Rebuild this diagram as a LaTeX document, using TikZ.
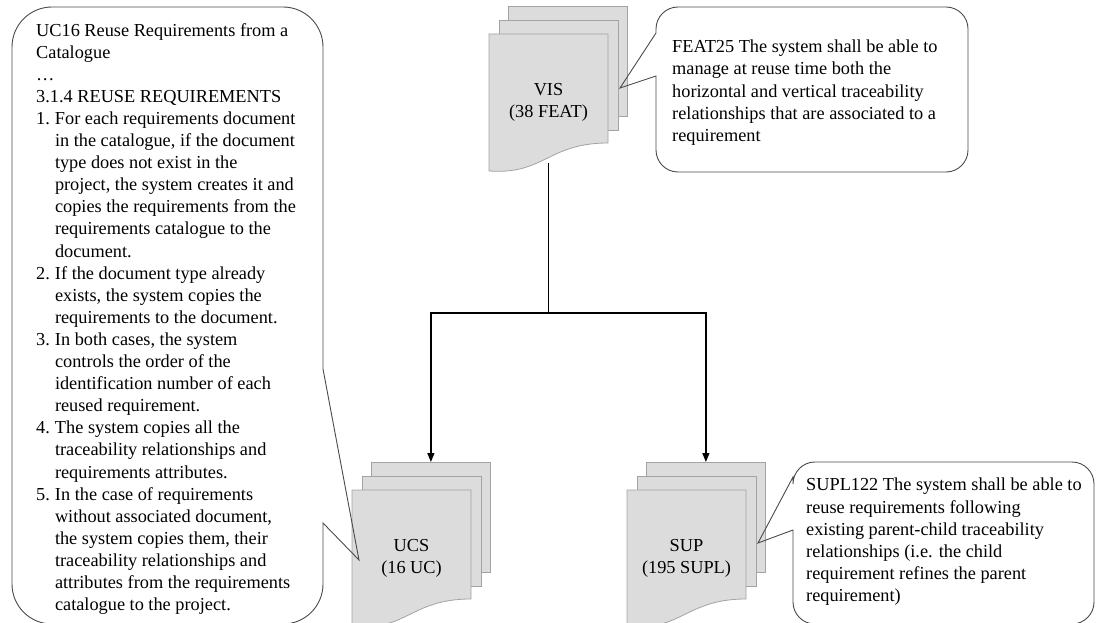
\documentclass[tikz,border=0pt]{standalone}
\usepackage{fontspec}
\setmainfont{Liberation Serif}
\usetikzlibrary{arrows.meta}
\usetikzlibrary{positioning}
\usepackage{xcolor}
\definecolor{pagegray}{HTML}{DCDCDC}
\definecolor{pageline}{HTML}{A3A3A3}
\definecolor{balloonline}{HTML}{4A4A4A}
\newcommand{\ind}{\hspace*{18.8pt}}
\newcommand{\itemno}[1]{\makebox[18.8pt][l]{#1}}

\begin{document}
\begin{tikzpicture}[x=1pt,y=-1pt,
    font=\fontsize{18.3}{22.1}\selectfont,
    page/.style={draw=pageline, fill=pagegray, line width=0.8pt},
    backpage/.style={page, minimum width=119pt, minimum height=110pt, anchor=north west, inner sep=0pt},
    balloon/.style={draw=balloonline, line width=0.9pt},
    doclabel/.style={align=center, inner sep=0pt, anchor=north},
    notetext/.style={align=left, inner sep=0pt, anchor=north west},
    link/.style={line width=1.2pt},
    flow/.style={link, -{Triangle[length=9pt,width=7pt]}}]
\useasboundingbox (0,0) rectangle (1096,623);

% VIS stack
\node[backpage] (visback) at (508,6) {};
\node[backpage] (vismid) at (498.5,20) {};
\draw[page] (489,34) -- (608,34) -- (608,143) .. controls (548,143) and (544,175) .. (489,171) -- cycle;
\node[doclabel] (vis) at (548.5,83) {VIS\\(38 FEAT)};

% UCS stack
\node[backpage] (ucsback) at (371,462) {};
\node[backpage] (ucsmid) at (361.5,476) {};
\draw[page] (352,490) -- (471,490) -- (471,599) .. controls (411,599) and (407,631) .. (352,627) -- cycle;
\node[doclabel] (ucs) at (411.5,539) {UCS\\(16 UC)};

% SUP stack
\node[backpage] (supback) at (646,462) {};
\node[backpage] (supmid) at (636.5,476) {};
\draw[page] (627,490) -- (746,490) -- (746,599) .. controls (686,599) and (682,631) .. (627,627) -- cycle;
\node[doclabel] (sup) at (686.5,539) {SUP\\(195 SUPL)};

% connectors
\coordinate (visfoot) at (548.5,163);
\coordinate (fork) at (548.5,313);
\draw[link] (visfoot) -- (fork);
\draw[flow] (fork) -| (ucsback.north);
\draw[flow] (fork) -| (supback.north);

% callouts
\draw[balloon] (52,7) -- (283,7) arc[start angle=270, end angle=360, radius=40]
    -- (323,369) -- (359,560) -- (323,523) -- (323,584) arc[start angle=0, end angle=90, radius=40]
    -- (52,624) arc[start angle=90, end angle=180, radius=40]
    -- (12,47) arc[start angle=180, end angle=270, radius=40] -- cycle;
\draw[balloon] (656,29) arc[start angle=180, end angle=270, radius=22]
    -- (946,7) arc[start angle=270, end angle=360, radius=22]
    -- (968,150) arc[start angle=0, end angle=90, radius=22]
    -- (678,172) arc[start angle=90, end angle=180, radius=22]
    -- (656,76) -- (620,88) -- (656,33) -- cycle;
\draw[balloon] (793,484) arc[start angle=180, end angle=270, radius=22]
    -- (1072,462) arc[start angle=270, end angle=360, radius=22]
    -- (1094,602) arc[start angle=0, end angle=90, radius=22]
    -- (815,624) arc[start angle=90, end angle=180, radius=22]
    -- (793,530) -- (758,543) -- (793,477) -- cycle;

\node[notetext] (uctext) at (36,23) {UC16 Reuse Requirements from a\\
Catalogue\\
…\\
3.1.4 REUSE REQUIREMENTS\\
\itemno{1.}For each requirements document\\
\ind in the catalogue, if the document\\
\ind type does not exist in the\\
\ind project, the system creates it and\\
\ind copies the requirements from the\\
\ind requirements catalogue to the\\
\ind document.\\
\itemno{2.}If the document type already\\
\ind exists, the system copies the\\
\ind requirements to the document.\\
\itemno{3.}In both cases, the system\\
\ind controls the order of the\\
\ind identification number of each\\
\ind reused requirement.\\
\itemno{4.}The system copies all the\\
\ind traceability relationships and\\
\ind requirements attributes.\\
\itemno{5.}In the case of requirements\\
\ind without associated document,\\
\ind the system copies them, their\\
\ind traceability relationships and\\
\ind attributes from the requirements\\
\ind catalogue to the project.};

\node[notetext] (feattext) at (672,40) {FEAT25 The system shall be able to\\
manage at reuse time both the\\
horizontal and vertical traceability\\
relationships that are associated to a\\
requirement};

\node[notetext] (supltext) at (806,478) {SUPL122 The system shall be able to\\
reuse requirements following\\
existing parent-child traceability\\
relationships (i.e. the child\\
requirement refines the parent\\
requirement)};
\end{tikzpicture}
\end{document}
